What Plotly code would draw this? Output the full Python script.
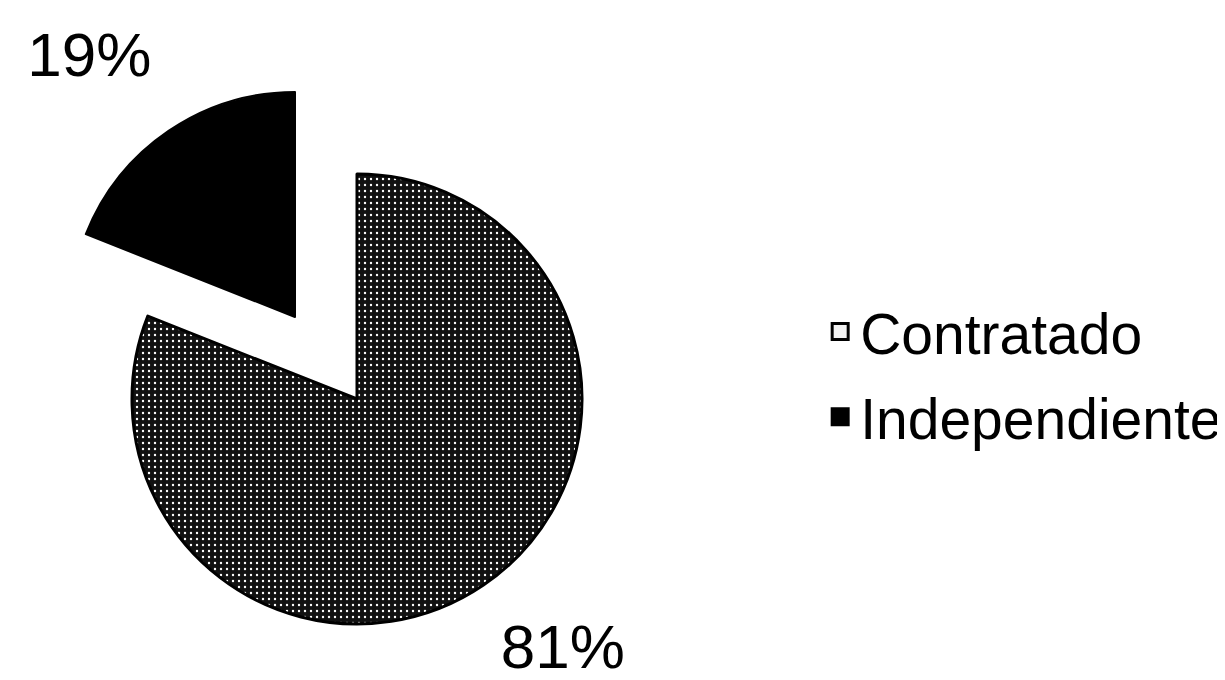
import plotly.graph_objects as go

# ---- data ----
categories = ["Contratado", "Independiente"]
values = [81, 19]
slice_colors = ["#121212", "#000000"]
legend_colors = ["#f2f2f2", "#000000"]

CLEAR = "rgba(0,0,0,0)"
FONT = "Liberation Sans, Arial, sans-serif"
W, H = 1225, 680
OFF = 8  # page body margin in the browser


def domain(cx, cy, r):
    """pie domain (paper fractions) for a screen-pixel centre and radius"""
    cx -= OFF
    cy -= OFF
    return dict(x=[(cx - r) / W, (cx + r) / W], y=[(H - cy - r) / H, (H - cy + r) / H])


R = 225
MAIN_C = (357, 399)
PULL_C = (295, 317)
fig = go.Figure()

# main pie (Contratado slice visible, Independiente slot left empty)
fig.add_trace(go.Pie(
    labels=categories,
    values=values,
    sort=False,
    direction="clockwise",
    domain=domain(*MAIN_C, R),
    marker=dict(
        colors=[slice_colors[0], CLEAR],
        line=dict(color="black", width=[3, 0]),
        pattern=dict(shape=[".", ""], fgcolor="#ffffff", bgcolor=[slice_colors[0], CLEAR],
                     size=6, solidity=0.12),
    ),
    textinfo="none",
    showlegend=False,
    hoverinfo="label+percent",
))

# pulled-out Independiente slice (same values, shifted outward)
fig.add_trace(go.Pie(
    labels=categories,
    values=values,
    sort=False,
    direction="clockwise",
    domain=domain(*PULL_C, R),
    marker=dict(
        colors=[CLEAR, slice_colors[1]],
        line=dict(color="black", width=[0, 2]),
    ),
    textinfo="none",
    showlegend=False,
    hoverinfo="label+percent",
))

# percentage labels, placed by the pie's own outside-text layout
label_specs = [
    (domain(MAIN_C[0], MAIN_C[1] + 38, R), ["%{percent:.0%}", ""]),
    (domain(PULL_C[0], PULL_C[1] - 53, R), ["", "%{percent:.0%}"]),
]
for dom, tmpl in label_specs:
    fig.add_trace(go.Pie(
        labels=categories,
        values=values,
        sort=False,
        direction="clockwise",
        domain=dom,
        marker=dict(colors=[CLEAR, CLEAR], line=dict(width=0)),
        texttemplate=tmpl,
        textposition="outside",
        textfont=dict(family=FONT, size=62, color="black"),
        showlegend=False,
        hoverinfo="skip",
    ))

# legend entries
for name, col in zip(categories, legend_colors):
    fig.add_trace(go.Scatter(
        x=[None], y=[None], mode="markers", name=name, legendgroup=name,
        marker=dict(symbol="square", size=16, color=col, line=dict(color="black", width=3)),
        showlegend=True,
    ))

fig.update_layout(
    width=W, height=H,
    margin=dict(l=0, r=0, t=0, b=0),
    paper_bgcolor="white", plot_bgcolor="white",
    xaxis=dict(visible=False), yaxis=dict(visible=False),
    font=dict(family=FONT, color="black"),
    legend=dict(
        x=0.663, y=0.461, xanchor="left", yanchor="middle",
        font=dict(family=FONT, size=57, color="black"),
        bgcolor="rgba(0,0,0,0)", itemwidth=30, itemsizing="trace",
        traceorder="grouped", tracegroupgap=8,
    ),
)

fig.write_html("out.html")
